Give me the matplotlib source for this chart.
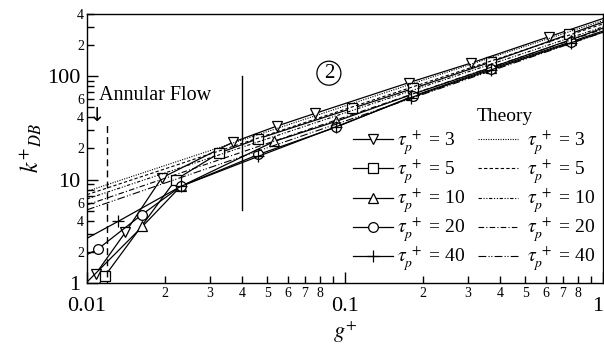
import matplotlib
matplotlib.use("Agg")
import matplotlib.pyplot as plt
from matplotlib.ticker import FixedLocator, FixedFormatter
import numpy as np

plt.rcParams['font.family'] = ['Liberation Serif', 'DejaVu Serif']
plt.rcParams['mathtext.fontset'] = 'stix'

# ---- data ----
tau_labels = ["3", "5", "10", "20", "40"]

g_tau3 = [0.0108, 0.0141, 0.0195, 0.0368, 0.0544, 0.0764, 0.177, 0.308, 0.618, 1.3]
k_tau3 = [1.22, 3.1, 10.4, 23.0, 32.9, 43.6, 86.7, 134, 241, 450]

g_tau5 = [0.0100, 0.01174, 0.0221, 0.0326, 0.0462, 0.1065, 0.184, 0.368, 0.74, 1.3]
k_tau5 = [0.68, 1.17, 10.0, 18.1, 24.9, 48.8, 76.1, 137, 255, 420]

g_tau10 = [0.0098, 0.0164, 0.0231, 0.0532, 0.0925, 0.18, 0.368, 0.75, 1.3]
k_tau10 = [0.97, 3.52, 8.6, 23.4, 36.6, 66, 121, 225, 370]

g_tau20 = [0.009, 0.0110, 0.0163, 0.0231, 0.0462, 0.092, 0.184, 0.368, 0.75, 1.3]
k_tau20 = [1.65, 2.12, 4.57, 8.6, 17.5, 32, 64.3, 118, 215, 340]

g_tau40 = [0.008, 0.0132, 0.0231, 0.0462, 0.0925, 0.18, 0.368, 0.75, 1.3]
k_tau40 = [2.0, 3.94, 8.6, 16.8, 32.5, 62, 115, 210, 330]

g_theory = [0.01, 1.0]
k_theory3 = [7.7, 345]
k_theory5 = [7.15, 320]
k_theory10 = [6.5, 300]
k_theory20 = [5.7, 285]
k_theory40 = [5.1, 265]

annular_g = [0.012, 0.012]
annular_k = [0.9, 36]
region_g = [0.04, 0.04]
region_k = [5.1, 100]

# ---- figure ----
fig = plt.figure(figsize=(6.04, 3.54), dpi=100)
ax = fig.add_axes([0.144, 0.2006, 0.854, 0.7599])
ax.set_xscale('log')
ax.set_yscale('log')
ax.set_xlim(0.01, 1)
ax.set_ylim(1, 400)

lw = 0.9
ms = 7
series = [
    (g_tau3, k_tau3, 'v'),
    (g_tau5, k_tau5, 's'),
    (g_tau10, k_tau10, '^'),
    (g_tau20, k_tau20, 'o'),
    (g_tau40, k_tau40, '+'),
]
lab_fmt = r'$\tau_p^{\ +}$ = '
data_handles = []
for (g, k, m), lab in zip(series, tau_labels):
    h, = ax.plot(g, k, color='black', lw=lw, marker=m, ms=ms if m != '+' else 9,
                 mfc='white', mec='black', mew=0.9,
                 label=lab_fmt + lab, clip_on=True)
    data_handles.append(h)

theory = [k_theory3, k_theory5, k_theory10, k_theory20, k_theory40]
styles = [(0, (1, 1.2)), (0, (3, 2)), (0, (3, 1.5, 1, 1.5, 1, 1.5)),
          (0, (5, 2, 1, 2)), (0, (7, 2, 1, 1.5, 1, 2))]
theory_handles = []
for kk, ls, lab in zip(theory, styles, tau_labels):
    h, = ax.plot(g_theory, kk, color='black', lw=0.8, linestyle=ls,
                 label=lab_fmt + lab)
    theory_handles.append(h)

ax.plot(annular_g, annular_k, color='black', lw=1.0, linestyle=(0, (5, 3)))
ax.plot(region_g, region_k, color='black', lw=1.0)

ax.text(0.0111, 65, 'Annular Flow', fontsize=14.5, ha='left', va='center')
ax.text(0.0110, 42, '\u2193', fontsize=14, ha='center', va='center',
        family=['DejaVu Sans'])
ax.text(0.0867, 107, '2', fontsize=15, ha='center', va='center',
        bbox=dict(boxstyle='circle,pad=0.12', fc='none', ec='black', lw=0.9))

# ---- ticks ----
ax.xaxis.set_major_locator(FixedLocator([0.01, 0.1, 1]))
ax.xaxis.set_major_formatter(FixedFormatter(['0.01', '0.1', '1']))
xminor = [m * d for d in (0.01, 0.1) for m in range(2, 10)]
xminor_lab = [str(m) if m <= 8 else '' for d in (0.01, 0.1) for m in range(2, 10)]
ax.xaxis.set_minor_locator(FixedLocator(xminor))
ax.xaxis.set_minor_formatter(FixedFormatter(xminor_lab))

ax.yaxis.set_major_locator(FixedLocator([1, 10, 100]))
ax.yaxis.set_major_formatter(FixedFormatter(['1', '10', '100']))
yminor = [m * d for d in (1, 10, 100) for m in range(2, 10) if m * d <= 400]
ylab = {2: '2', 4: '4', 6: '6'}
yminor_lab = [ylab.get(m, '') for d in (1, 10, 100) for m in range(2, 10) if m * d <= 400]
ax.yaxis.set_minor_locator(FixedLocator(yminor))
ax.yaxis.set_minor_formatter(FixedFormatter(yminor_lab))

ax.tick_params(axis='both', which='both', direction='in', top=False, right=False)
ax.tick_params(axis='x', which='major', length=8, labelsize=16, pad=10, width=1)
ax.tick_params(axis='x', which='minor', length=5, labelsize=10, pad=3, width=1)
ax.tick_params(axis='y', which='major', length=8, labelsize=16, pad=5, width=1)
ax.tick_params(axis='y', which='minor', length=5, labelsize=10, pad=2, width=1)
for sp in ax.spines.values():
    sp.set_linewidth(1.0)
xt = ax.xaxis.get_majorticklabels()
xt[-1].set_horizontalalignment('right')

ax.set_xlabel(r'$g^{+}$', fontsize=16, labelpad=3)
ax.set_ylabel(r'$k^{+}{}_{DB}$', fontsize=17, labelpad=2)

leg_kw = dict(loc='upper left', frameon=False, fontsize=14, handlelength=2.06,
              labelspacing=0.05, borderaxespad=0, borderpad=0)
leg1 = ax.legend(handles=data_handles, bbox_to_anchor=(0.516, 0.575),
                 handletextpad=0.2, **leg_kw)
ax.add_artist(leg1)
leg2 = ax.legend(handles=theory_handles, bbox_to_anchor=(0.758, 0.575),
                 handletextpad=0.45, **leg_kw)
ax.text(0.81, 0.62, 'Theory', transform=ax.transAxes, fontsize=14,
        ha='center', va='center')

fig.savefig('out.png', dpi=100)
